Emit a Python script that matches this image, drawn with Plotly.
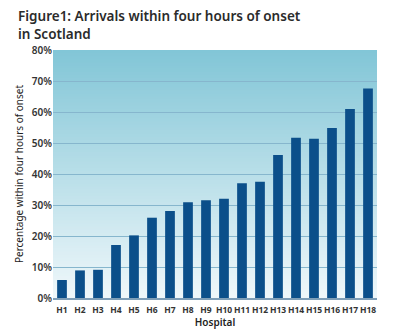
import plotly.graph_objects as go
import numpy as np

hospitals = ["H1", "H2", "H3", "H4", "H5", "H6", "H7", "H8", "H9", "H10",
             "H11", "H12", "H13", "H14", "H15", "H16", "H17", "H18"]
pct_within_4h = [5.8, 8.9, 9.1, 17.1, 20.2, 25.9, 28.1, 30.9, 31.5, 32.0,
                 37.0, 37.5, 46.1, 51.7, 51.4, 54.8, 61.0, 67.6]
y_ticks = [0, 10, 20, 30, 40, 50, 60, 70, 80]
y_ticklabels = [f"{v}%" for v in y_ticks]

fig = go.Figure()
fig.add_trace(go.Bar(x=hospitals, y=pct_within_4h, marker_color="#0b4f8a",
                     marker_line_width=0))

# gradient background
top = np.array([130, 198, 215])
bot = np.array([240, 248, 251])
n = 80
shapes = []
for i in range(n):
    t = (i + 0.5) / n
    c = bot + (top - bot) * t
    shapes.append(dict(type="rect", xref="x domain", yref="y", x0=0, x1=1,
                       y0=80 * i / n, y1=min(80, 80 * (i + 1) / n + 0.8),
                       layer="below", line_width=0,
                       fillcolor=f"rgb({int(c[0])},{int(c[1])},{int(c[2])})"))

fig.update_layout(
    width=400, height=334,
    margin=dict(l=53, r=23, t=50, b=36),
    paper_bgcolor="white", plot_bgcolor="white",
    showlegend=False,
    bargap=0.46,
    shapes=shapes,
    font=dict(family="Noto Sans", color="#333333"),
    annotations=[dict(
        text="Figure1: Arrivals within four hours of onset<br>in Scotland",
        xref="paper", yref="paper", x=-37 / 324, y=1 + 45 / 248,
        xanchor="left", yanchor="top", align="left", showarrow=False,
        font=dict(size=13.5, family="Noto Sans", color="#2b2b2b", weight=600))],
)
fig.update_yaxes(range=[0, 80], tickvals=y_ticks, ticktext=y_ticklabels,
                 automargin=False,
                 showgrid=True, gridcolor="#86b6cd", gridwidth=1,
                 zeroline=False, ticks="", ticklen=0,
                 tickfont=dict(size=10, color="#333333", family="Noto Sans", weight=600),
                 title=dict(text="Percentage within four hours of onset",
                            font=dict(size=10, color="#222222", family="Noto Sans"), standoff=6))
fig.update_xaxes(showline=True, linecolor="#7f9fb8", linewidth=1.5,
                 automargin=False,
                 ticks="", tickangle=0, ticklabelstandoff=3,
                 tickfont=dict(size=8.5, color="#333333", family="Noto Sans", weight="bold"),
                 title=dict(text="Hospital", font=dict(size=10, color="#222222", family="Noto Sans", weight=600), standoff=2))

fig.write_html("out.html")
